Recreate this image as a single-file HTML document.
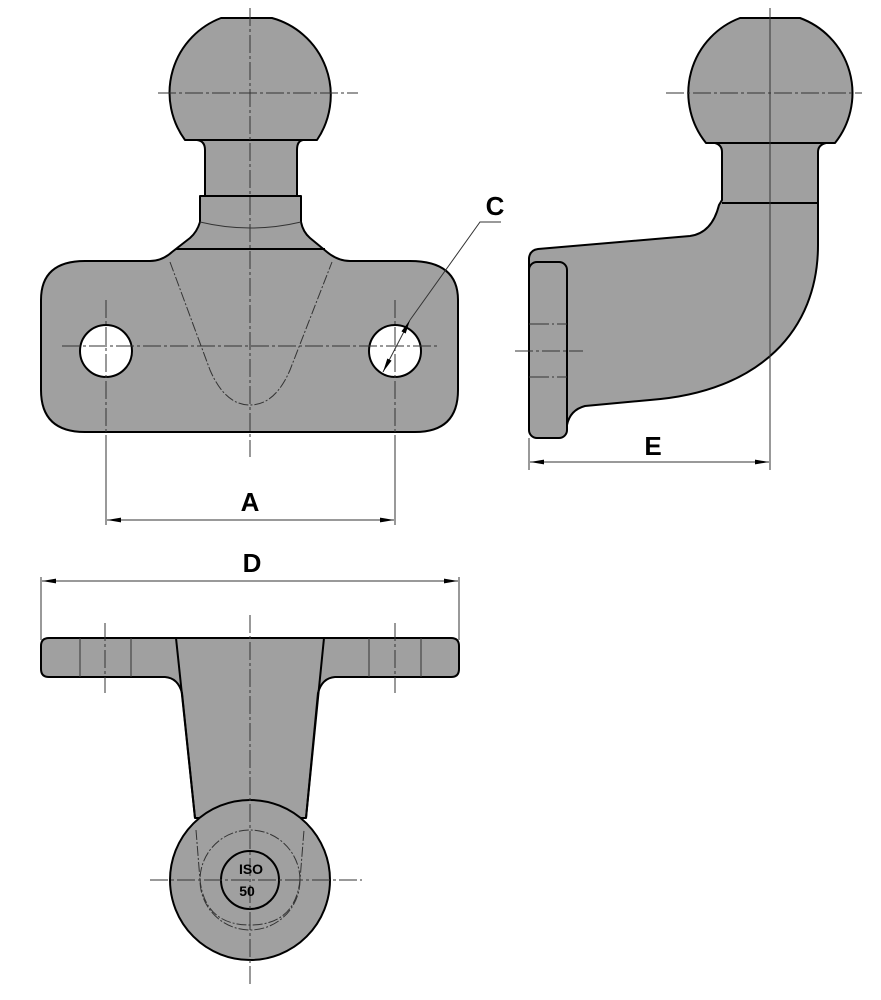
<!DOCTYPE html>
<html><head><meta charset="utf-8"><style>
html,body{margin:0;padding:0;background:#fff;}
svg{display:block;}
text{font-family:"Liberation Sans",sans-serif;font-weight:bold;}
</style></head><body>
<svg width="881" height="1000" viewBox="0 0 881 1000" xmlns="http://www.w3.org/2000/svg">
<defs>
<marker id="ar" viewBox="0 0 10 10" refX="10" refY="5" markerWidth="14" markerHeight="8" orient="auto-start-reverse" markerUnits="userSpaceOnUse" preserveAspectRatio="none"><path d="M0,2 L10,5 L0,8 z" fill="#000"/></marker>
</defs>
<g fill="#a0a0a0" stroke="#000" stroke-width="2" stroke-linejoin="round">
<!-- FRONT VIEW -->
<path d="M221,18 L272,18 A80,80 0 0 1 317,140 L303,140 Q297,141 297,150 L297,196 L301,196 L301,222 Q303,232 310,238 L327,252 Q338,261 350,261 L410,261 Q458,261 458,300 L458,390 Q458,432 415,432 L85,432 Q41,432 41,390 L41,300 Q41,261 85,261 L150,261 Q162,261 172,252 L190,238 Q197,232 200,222 L200,196 L205,196 L205,150 Q205,141 197,140 L185,140 A80,80 0 0 1 221,18 Z"/>
<circle cx="106" cy="351" r="26" fill="#fff"/>
<circle cx="395" cy="351" r="26" fill="#fff"/>
<!-- SIDE VIEW -->
<path d="M740,18 L800,18 A80,80 0 0 1 835,143 L826,143 Q818,145 818,152 L818,245 C818,330 760,392 650,400 L585,406 Q570,410 567,425 L567,428 L537,428 Q529,428 529,420 L529,258 Q530,250 538,249 L690,236 Q712,233 719,205 L722,200 L722,152 Q722,145 715,143 L706,143 A80,80 0 0 1 740,18 Z"/>
<rect x="529" y="262" width="38" height="176" rx="8"/>
<!-- BOTTOM VIEW -->
<path d="M49,638 L451,638 Q459,638 459,646 L459,669 Q459,677 451,677 L335,677 Q322,678 318,693 L306,818 L195,818 L182,693 Q178,678 165,677 L49,677 Q41,677 41,669 L41,646 Q41,638 49,638 Z"/>
<circle cx="250" cy="880" r="80"/>
</g>
<g fill="none" stroke="#000" stroke-width="2">
<line x1="205" y1="196" x2="297" y2="196"/>
<line x1="176" y1="249" x2="325" y2="249"/>
<line x1="722" y1="203" x2="818" y2="203"/>
<line x1="185" y1="140" x2="317" y2="140" />
<line x1="706" y1="143" x2="835" y2="143"/>
<line x1="176" y1="638" x2="195" y2="818"/>
<line x1="324" y1="638" x2="306" y2="818"/>
<circle cx="250" cy="880" r="29"/>
</g>
<g fill="none" stroke="#333" stroke-width="1">
<path d="M200,222 Q250,234 301,222"/>
<path d="M170,262 L210,370 Q225,405 250,405 Q275,405 290,370 L332,262" stroke-dasharray="10,2,2,2"/>
<circle cx="250" cy="880" r="50" stroke-dasharray="10,2,2,2"/>
<path d="M196,830 L200,880 Q205,925 250,925 Q295,925 300,880 L304,830" stroke-dasharray="10,2,2,2"/>
<line x1="80" y1="638" x2="80" y2="677"/><line x1="131" y1="638" x2="131" y2="677"/>
<line x1="369" y1="638" x2="369" y2="677"/><line x1="421" y1="638" x2="421" y2="677"/>
<line x1="529" y1="324" x2="567" y2="324" stroke-dasharray="20,3,2,3"/>
<line x1="529" y1="377" x2="567" y2="377" stroke-dasharray="20,3,2,3"/>
</g>
<!-- center lines -->
<g stroke="#333" stroke-width="1" stroke-dasharray="18,3,3,3" fill="none">
<line x1="250" y1="8" x2="250" y2="457"/>
<line x1="158" y1="93" x2="358" y2="93"/>
<line x1="62" y1="346" x2="440" y2="346"/>
<line x1="106" y1="300" x2="106" y2="440"/>
<line x1="395" y1="300" x2="395" y2="440"/>
<line x1="666" y1="93" x2="862" y2="93"/>
<line x1="515" y1="351" x2="583" y2="351"/>
<line x1="250" y1="615" x2="250" y2="985"/>
<line x1="150" y1="880" x2="362" y2="880"/>
<line x1="105" y1="623" x2="105" y2="693"/>
<line x1="395" y1="623" x2="395" y2="693"/>
</g>
<line x1="770" y1="8" x2="770" y2="470" stroke="#333" stroke-width="1"/>
<!-- dimensions -->
<g stroke="#333" stroke-width="1" fill="none">
<line x1="106" y1="440" x2="106" y2="525"/>
<line x1="395" y1="440" x2="395" y2="525"/>
<line x1="107" y1="520" x2="394" y2="520" marker-start="url(#ar)" marker-end="url(#ar)"/>
<line x1="529" y1="438" x2="529" y2="470"/>
<line x1="530" y1="462" x2="769" y2="462" marker-start="url(#ar)" marker-end="url(#ar)"/>
<line x1="41" y1="577" x2="41" y2="640"/>
<line x1="459" y1="577" x2="459" y2="640"/>
<line x1="42" y1="581" x2="458" y2="581" marker-start="url(#ar)" marker-end="url(#ar)"/>
<polyline points="501,222 480,222 410,320"/>
<line x1="410" y1="320" x2="383" y2="372" marker-start="url(#ar)" marker-end="url(#ar)"/>
</g>
<text x="250" y="511" font-size="26" text-anchor="middle">A</text>
<text x="495" y="215" font-size="26" text-anchor="middle">C</text>
<text x="653" y="455" font-size="26" text-anchor="middle">E</text>
<text x="252" y="572" font-size="26" text-anchor="middle">D</text>
<text x="251" y="874" font-size="14" text-anchor="middle">ISO</text>
<text x="247" y="896" font-size="14" text-anchor="middle">50</text>
</svg>
</body></html>
